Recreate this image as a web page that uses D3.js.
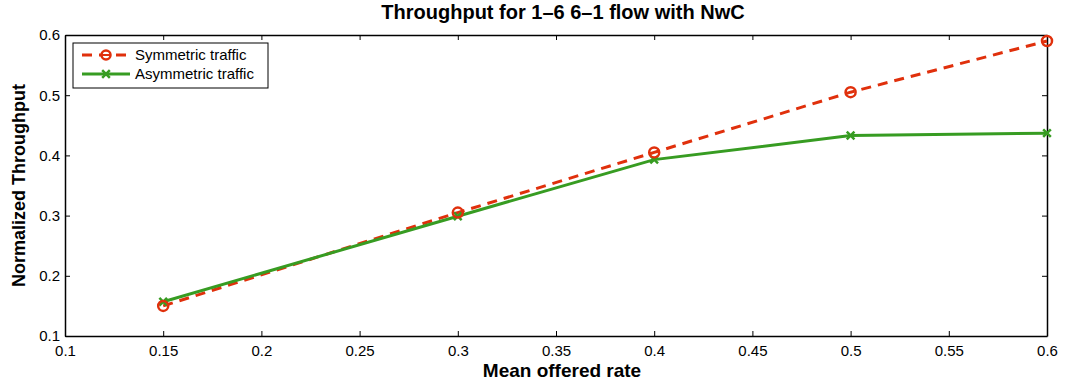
<!DOCTYPE html>
<html>
<head>
<meta charset="utf-8">
<script src="https://cdn.jsdelivr.net/npm/d3@7"></script>
<style>
  body { margin: 0; background: #fff; }
  text { font-family: "Liberation Sans", Arial, sans-serif; }
</style>
</head>
<body>
<div id="chart"></div>
<script>
const rates = [0.15, 0.3, 0.4, 0.5, 0.6];
const symmetric = [0.150, 0.305, 0.405, 0.505, 0.590];
const asymmetric = [0.157, 0.299, 0.393, 0.433, 0.437];
const xTicks = [0.1, 0.15, 0.2, 0.25, 0.3, 0.35, 0.4, 0.45, 0.5, 0.55, 0.6];
const yTicks = [0.1, 0.2, 0.3, 0.4, 0.5, 0.6];

const width = 1069, height = 383;
const margin = { top: 35, right: 22, bottom: 47, left: 65 };

const svg = d3.select('#chart').append('svg')
    .attr('width', width)
    .attr('height', height);

const x = d3.scaleLinear().domain([0.1, 0.6]).range([margin.left, width - margin.right]);
const y = d3.scaleLinear().domain([0.1, 0.6]).range([height - margin.bottom, margin.top]);

// axes, ticks inside on all four sides
const fmt = d => String(+d.toFixed(2));
svg.append('g')
    .attr('transform', `translate(0,${y(0.1)})`)
    .call(d3.axisBottom(x).tickValues(xTicks).tickFormat(fmt).tickSizeInner(-5).tickSizeOuter(0).tickPadding(9))
    .call(g => g.selectAll('text').attr('font-size', 15).attr('fill', '#000'));
svg.append('g')
    .attr('transform', `translate(0,${y(0.6)})`)
    .call(d3.axisTop(x).tickValues(xTicks).tickFormat('').tickSizeInner(-5).tickSizeOuter(0));
svg.append('g')
    .attr('transform', `translate(${x(0.1)},0)`)
    .call(d3.axisLeft(y).tickValues(yTicks).tickFormat(fmt).tickSizeInner(-5).tickSizeOuter(0).tickPadding(5))
    .call(g => g.selectAll('text').attr('font-size', 15).attr('fill', '#000'));
svg.append('g')
    .attr('transform', `translate(${x(0.6)},0)`)
    .call(d3.axisRight(y).tickValues(yTicks).tickFormat('').tickSizeInner(-5).tickSizeOuter(0));
svg.selectAll('.domain').attr('stroke', '#000').attr('stroke-width', 1.5);
svg.selectAll('.tick line').attr('stroke', '#000');

const red = '#e0300c', green = '#379c22';

const line = d3.line().x(d => x(d[0])).y(d => y(d[1]));
const symData = rates.map((r, i) => [r, symmetric[i]]);
const asymData = rates.map((r, i) => [r, asymmetric[i]]);

svg.append('path').datum(symData).attr('d', line)
    .attr('fill', 'none').attr('stroke', red).attr('stroke-width', 3).attr('stroke-dasharray', '10,7');
svg.append('path').datum(asymData).attr('d', line)
    .attr('fill', 'none').attr('stroke', green).attr('stroke-width', 3);

const cross = d3.symbol().type(d3.symbolX).size(40);
svg.selectAll('.asym').data(asymData).enter().append('path')
    .attr('transform', d => `translate(${x(d[0])},${y(d[1])})`)
    .attr('d', cross).attr('fill', 'none').attr('stroke', green).attr('stroke-width', 2.5);
svg.selectAll('.sym').data(symData).enter().append('circle')
    .attr('cx', d => x(d[0])).attr('cy', d => y(d[1])).attr('r', 5)
    .attr('fill', 'none').attr('stroke', red).attr('stroke-width', 2.5);

// title and labels
svg.append('text').attr('x', 563).attr('y', 19)
    .attr('text-anchor', 'middle').attr('font-size', 20).attr('font-weight', 'bold')
    .text('Throughput for 1\u20136 6\u20131 flow with NwC');
svg.append('text').attr('x', 562).attr('y', 377)
    .attr('text-anchor', 'middle').attr('font-size', 19).attr('font-weight', 'bold')
    .text('Mean offered rate');
svg.append('text').attr('transform', `translate(25,${(margin.top + height - margin.bottom) / 2}) rotate(-90)`)
    .attr('text-anchor', 'middle').attr('font-size', 18).attr('font-weight', 'bold')
    .text('Normalized Throughput');

// legend
const lg = svg.append('g').attr('transform', 'translate(73,43)');
lg.append('rect').attr('width', 195).attr('height', 45).attr('fill', '#fff').attr('stroke', '#000').attr('stroke-width', 1);
const items = [
    { label: 'Symmetric traffic', color: red, dash: '10,7', marker: 'circle' },
    { label: 'Asymmetric traffic', color: green, dash: null, marker: 'x' }
];
items.forEach((it, i) => {
    const cy = 12 + i * 19;
    lg.append('line').attr('x1', 9).attr('x2', 57).attr('y1', cy).attr('y2', cy)
        .attr('stroke', it.color).attr('stroke-width', 3).attr('stroke-dasharray', it.dash);
    if (it.marker === 'circle') {
        lg.append('circle').attr('cx', 33).attr('cy', cy).attr('r', 4.5)
            .attr('fill', '#fff').attr('stroke', it.color).attr('stroke-width', 2.5);
        lg.append('line').attr('x1', 29).attr('x2', 37).attr('y1', cy).attr('y2', cy)
            .attr('stroke', it.color).attr('stroke-width', 2);
    } else {
        lg.append('path').attr('transform', `translate(33,${cy})`).attr('d', cross)
            .attr('fill', 'none').attr('stroke', it.color).attr('stroke-width', 2.5);
    }
    lg.append('text').attr('x', 62).attr('y', cy + 5).attr('font-size', 15).text(it.label);
});
</script>
</body>
</html>
